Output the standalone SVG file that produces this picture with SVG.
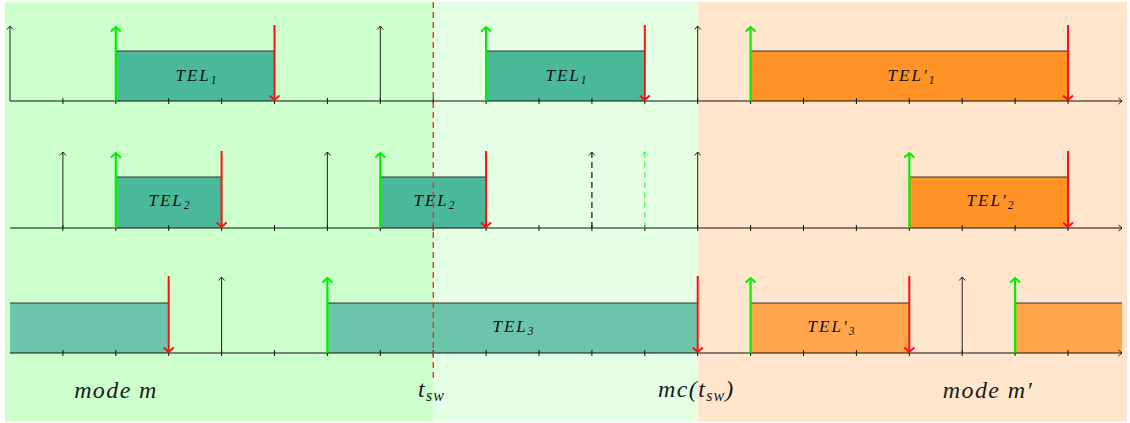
<svg xmlns="http://www.w3.org/2000/svg" width="1130" height="423" viewBox="0 0 1130 423">
<style>
.axis{stroke:#111;stroke-width:1.1;fill:none}
.tick{stroke:#111;stroke-width:1;fill:none}
.up{stroke:#222;stroke-width:1;fill:none}
.dashup{stroke:#111;stroke-width:1.2;fill:none;stroke-dasharray:6 4}
.dashgreen{stroke:#33ee33;stroke-width:1;fill:none;stroke-dasharray:6 4}
.green{stroke:#00ee00;stroke-width:2.2;fill:none}
.red{stroke:#ff1010;stroke-width:2;fill:none}
.top{stroke:#333;stroke-width:1.2;fill:none}
.teal{fill:#4ab99a}
.teal3{fill:#6bc5ab}
.org{fill:#ff9326}
.org3{fill:#ffa64d}
.lbl{font-family:"Liberation Serif","DejaVu Serif",serif;font-style:italic;font-size:17px;fill:#111;letter-spacing:2px}
.sub{font-size:11.5px;letter-spacing:0}
.big{font-family:"Liberation Serif","DejaVu Serif",serif;font-style:italic;font-size:24px;fill:#1a1a1a;letter-spacing:1.4px}
</style>
<defs>
<marker id="hb" viewBox="-8 -8 16 16" markerWidth="16" markerHeight="16" markerUnits="userSpaceOnUse" refX="0" refY="0" orient="auto"><path d="M-3.5,-3 L0,0 L-3.5,3" fill="none" stroke="#222" stroke-width="1"/></marker>
<marker id="hg" viewBox="-8 -8 16 16" markerWidth="16" markerHeight="16" markerUnits="userSpaceOnUse" refX="0" refY="0" orient="auto"><path d="M-4.5,-5 L0,0 L-4.5,5" fill="none" stroke="#00ee00" stroke-width="2"/></marker>
<marker id="hgd" viewBox="-8 -8 16 16" markerWidth="16" markerHeight="16" markerUnits="userSpaceOnUse" refX="0" refY="0" orient="auto"><path d="M-3.5,-3 L0,0 L-3.5,3" fill="none" stroke="#33ee33" stroke-width="1"/></marker>
<marker id="hr" viewBox="-8 -8 16 16" markerWidth="16" markerHeight="16" markerUnits="userSpaceOnUse" refX="0" refY="0" orient="auto"><path d="M-4.5,-5 L0,0 L-4.5,5" fill="none" stroke="#ff1010" stroke-width="2"/></marker>
</defs>

<g id="backgrounds">
<rect x="5" y="2" width="428.2" height="420" fill="#ccffcc"/>
<rect x="433.2" y="2" width="264.5" height="420" fill="#e5ffe5"/>
<rect x="697.7" y="2" width="429.3" height="420" fill="#ffe5cc"/>
</g>

<g id="row1">
<rect class="teal" x="115.8" y="51" width="158.7" height="50"/>
<rect class="teal" x="486.1" y="51" width="158.7" height="50"/>
<rect class="org" x="750.6" y="51" width="317.4" height="50"/>
<path class="top" d="M115.8,51H274.5M486.1,51H644.8M750.6,51H1068"/>
<path class="axis" d="M10,101H1122" marker-end="url(#hb)"/>
<path class="tick" d="M62.9,98v6M115.8,98v6M168.7,98v6M221.6,98v6M274.5,98v6M327.4,98v6M380.3,98v6M433.2,98v6M486.1,98v6M539,98v6M591.9,98v6M644.8,98v6M697.7,98v6M750.6,98v6M803.5,98v6M856.4,98v6M909.3,98v6M962.2,98v6M1015.1,98v6M1068,98v6"/>
<text class="lbl" x="196" y="81" text-anchor="middle">TEL<tspan class="sub" dy="3">1</tspan></text>
<text class="lbl" x="566" y="81" text-anchor="middle">TEL<tspan class="sub" dy="3">1</tspan></text>
<text class="lbl" x="911" y="81" text-anchor="middle">TEL′<tspan class="sub" dy="3">1</tspan></text>
</g>

<g id="row2">
<rect class="teal" x="115.8" y="177" width="105.8" height="51"/>
<rect class="teal" x="380.3" y="177" width="105.8" height="51"/>
<rect class="org" x="909.3" y="177" width="158.7" height="51"/>
<path class="top" d="M115.8,177H221.6M380.3,177H486.1M909.3,177H1068"/>
<path class="axis" d="M10,228H1122" marker-end="url(#hb)"/>
<path class="tick" d="M62.9,225v6M115.8,225v6M168.7,225v6M221.6,225v6M274.5,225v6M327.4,225v6M380.3,225v6M433.2,225v6M486.1,225v6M539,225v6M591.9,225v6M644.8,225v6M697.7,225v6M750.6,225v6M803.5,225v6M856.4,225v6M909.3,225v6M962.2,225v6M1015.1,225v6M1068,225v6"/>
<text class="lbl" x="169" y="206" text-anchor="middle">TEL<tspan class="sub" dy="3">2</tspan></text>
<text class="lbl" x="434" y="206" text-anchor="middle">TEL<tspan class="sub" dy="3">2</tspan></text>
<text class="lbl" x="990" y="206" text-anchor="middle">TEL′<tspan class="sub" dy="3">2</tspan></text>
</g>

<g id="row3">
<rect class="teal3" x="10" y="303" width="158.7" height="50"/>
<rect class="teal3" x="327.4" y="303" width="370.3" height="50"/>
<rect class="org3" x="750.6" y="303" width="158.7" height="50"/>
<rect class="org3" x="1015.1" y="303" width="106.9" height="50"/>
<path class="top" d="M10,303H168.7M327.4,303H697.7M750.6,303H909.3M1015.1,303H1122"/>
<path class="axis" d="M10,353H1122" marker-end="url(#hb)"/>
<path class="tick" d="M62.9,350v6M115.8,350v6M168.7,350v6M221.6,350v6M274.5,350v6M327.4,350v6M380.3,350v6M433.2,350v6M486.1,350v6M539,350v6M591.9,350v6M644.8,350v6M697.7,350v6M750.6,350v6M803.5,350v6M856.4,350v6M909.3,350v6M962.2,350v6M1015.1,350v6M1068,350v6"/>
<text class="lbl" x="513" y="332" text-anchor="middle">TEL<tspan class="sub" dy="3">3</tspan></text>
<text class="lbl" x="831" y="332" text-anchor="middle">TEL′<tspan class="sub" dy="3">3</tspan></text>
</g>

<g id="connectors">
<path class="up" d="M10,101V26" marker-end="url(#hb)"/>
<path class="up" d="M380.3,101V26" marker-end="url(#hb)"/>
<path class="up" d="M697.7,101V26" marker-end="url(#hb)"/>
<path class="green" d="M115.8,101V27" marker-end="url(#hg)"/>
<path class="green" d="M486.1,101V27" marker-end="url(#hg)"/>
<path class="green" d="M750.6,101V27" marker-end="url(#hg)"/>
<path class="red" d="M274.5,25V100" marker-end="url(#hr)"/>
<path class="red" d="M644.8,25V100" marker-end="url(#hr)"/>
<path class="red" d="M1068,25V100" marker-end="url(#hr)"/>

<path class="up" d="M62.9,228V152" marker-end="url(#hb)"/>
<path class="up" d="M327.4,228V152" marker-end="url(#hb)"/>
<path class="up" d="M697.7,228V152" marker-end="url(#hb)"/>
<path class="dashup" d="M591.9,228V152" marker-end="url(#hb)"/>
<path class="dashgreen" d="M644.8,228V152" marker-end="url(#hgd)"/>
<path class="green" d="M115.8,228V153" marker-end="url(#hg)"/>
<path class="green" d="M380.3,228V153" marker-end="url(#hg)"/>
<path class="green" d="M909.3,228V153" marker-end="url(#hg)"/>
<path class="red" d="M221.6,151V227" marker-end="url(#hr)"/>
<path class="red" d="M486.1,151V227" marker-end="url(#hr)"/>
<path class="red" d="M1068,151V227" marker-end="url(#hr)"/>

<path class="up" d="M221.6,353V277" marker-end="url(#hb)"/>
<path class="up" d="M962.2,353V277" marker-end="url(#hb)"/>
<path class="green" d="M327.4,353V278" marker-end="url(#hg)"/>
<path class="green" d="M750.6,353V278" marker-end="url(#hg)"/>
<path class="green" d="M1015.1,353V278" marker-end="url(#hg)"/>
<path class="red" d="M168.7,276V352" marker-end="url(#hr)"/>
<path class="red" d="M697.7,276V352" marker-end="url(#hr)"/>
<path class="red" d="M909.3,276V352" marker-end="url(#hr)"/>
</g>

<g id="switch-line">
<path d="M433.3,2V378" stroke="#f03030" stroke-width="1.4" stroke-dasharray="6 4" fill="none"/>
</g>

<g id="labels">
<text class="big" x="116" y="398" text-anchor="middle">mode m</text>
<text class="big" x="418" y="397">t<tspan font-size="16" dy="4" letter-spacing="1">sw</tspan></text>
<text class="big" x="658" y="397">mc(t<tspan font-size="16" dy="4" letter-spacing="1">sw</tspan><tspan dy="-4">)</tspan></text>
<text class="big" x="988" y="398" text-anchor="middle">mode m′</text>
</g>
</svg>
